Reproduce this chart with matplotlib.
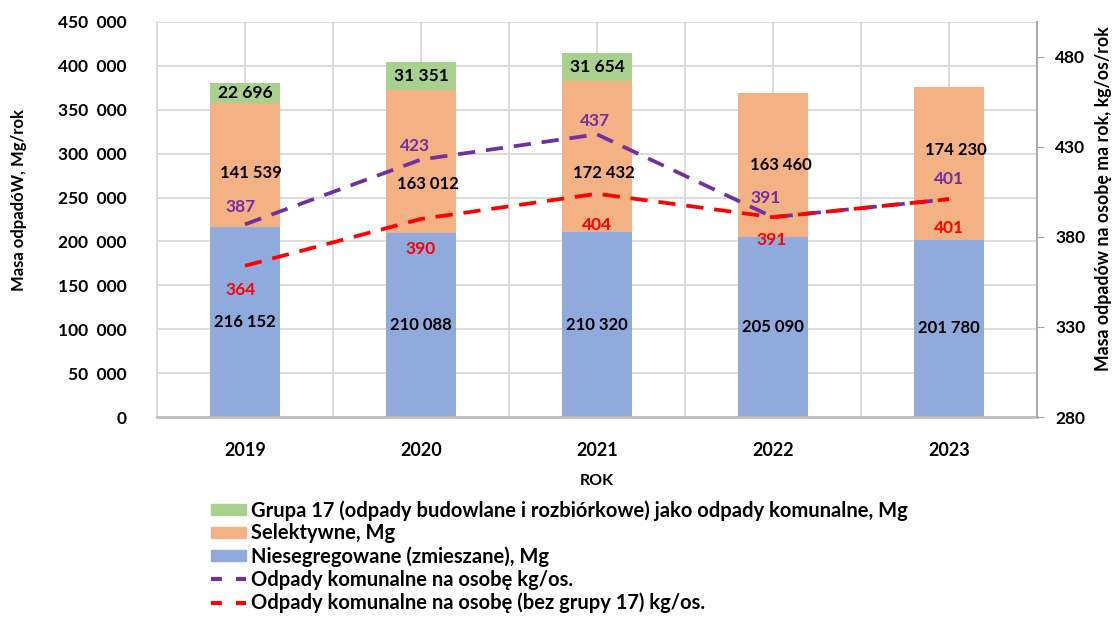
import numpy as np
import matplotlib.pyplot as plt
from matplotlib.patches import Patch
from matplotlib.lines import Line2D
from matplotlib.ticker import FuncFormatter

# ==========================
# Dane
# ==========================
lata = ["2019", "2020", "2021", "2022", "2023"]
niesegregowane = [216152, 210088, 210320, 205090, 201780]
selektywne = [141539, 163012, 172432, 163460, 174230]
grupa17 = [22696, 31351, 31654, 0, 0]
na_osobe = [387, 423, 437, 391, 401]
na_osobe_bez17 = [364, 390, 404, 391, 401]

# przesunięcia etykiet (piksele)
off_sel = [(6, -8), (7, -23), (7, -16), (8, 0), (7, 13)]
off_fiol = [(-4, 17), (-6, 14), (-2, 13), (-7, 19), (0, 20)]
off_czer = [(-4, -24), (0, -30), (0, -31), (-1, -23), (0, -29)]

plt.rcParams['font.family'] = ['Lato', 'DejaVu Sans']
plt.rcParams['font.weight'] = 'bold'
plt.rcParams['axes.labelweight'] = 'bold'

c_nieseg = "#8FAADC"
c_sel = "#F4B183"
c_g17 = "#A9D18E"
c_fiol = "#7030A0"
c_czer = "#FF0000"

def fmt(v):
    return f"{v:,.0f}".replace(",", " ")

x = np.arange(len(lata))
szer = 0.4

fig = plt.figure(figsize=(11.2, 6.17), dpi=100)
ax = fig.add_axes([157/1120, 1 - 417/617, 880/1120, 395/617])

ax.bar(x, niesegregowane, szer, color=c_nieseg, zorder=2)
ax.bar(x, selektywne, szer, bottom=niesegregowane, color=c_sel, zorder=2)
dol17 = np.array(niesegregowane) + np.array(selektywne)
ax.bar(x, grupa17, szer, bottom=dol17, color=c_g17, zorder=2)

ax.set_xlim(-0.5, 4.5)
ax.set_ylim(0, 450000)
ax.set_yticks(np.arange(0, 450001, 50000))
ax.yaxis.set_major_formatter(FuncFormatter(lambda v, p: fmt(v).replace(" ", "  ")))
ax.set_xticks(x)
ax.set_xticklabels(lata)
ax.set_xticks(np.arange(-0.5, 4.6, 0.5), minor=True)
ax.tick_params(axis='x', which='both', length=0, labelsize=13, pad=18)
ax.tick_params(axis='y', length=0, labelsize=12.5, pad=22)
ax.grid(True, which='both', axis='x', color="#D9D9D9", lw=1.3, zorder=0)
ax.grid(True, which='major', axis='y', color="#D9D9D9", lw=1.3, zorder=0)
for s in ["top", "right"]:
    ax.spines[s].set_visible(False)
ax.spines["left"].set_color("#D9D9D9")
ax.spines["left"].set_linewidth(1.3)
ax.spines["bottom"].set_color("#BFBFBF")
ax.spines["bottom"].set_linewidth(2)
ax.set_xlabel("ROK", fontsize=11.5, labelpad=11)
ax.set_ylabel("Masa odpadóW, Mg/rok", fontsize=12)
ax.yaxis.set_label_coords(-0.148, 0.549)

# etykiety słupków
for i in range(len(lata)):
    ax.text(x[i], niesegregowane[i] / 2, fmt(niesegregowane[i]),
            ha="center", va="center", fontsize=12, zorder=3)
    ax.annotate(fmt(selektywne[i]),
                (x[i], niesegregowane[i] + selektywne[i] / 2),
                xytext=(off_sel[i][0] * 0.72, off_sel[i][1] * 0.72),
                textcoords="offset points",
                ha="center", va="center", fontsize=12, zorder=3)
    if grupa17[i] > 0:
        ax.text(x[i], dol17[i] + grupa17[i] / 2, fmt(grupa17[i]),
                ha="center", va="center", fontsize=12.5, zorder=3)

# oś prawa
ax2 = ax.twinx()
ax2.set_ylim(280, 499.4)
ax2.set_yticks(np.arange(280, 481, 50))
ax2.plot(x, na_osobe, color=c_fiol, lw=2.7, dashes=(4.6, 2.9), zorder=4)
ax2.plot(x, na_osobe_bez17, color=c_czer, lw=2.7, dashes=(4.6, 2.9), zorder=5)
for i in range(len(lata)):
    ax2.annotate(str(na_osobe[i]), (x[i], na_osobe[i]),
                 xytext=(off_fiol[i][0] * 0.72, off_fiol[i][1] * 0.72),
                 textcoords="offset points", ha="center", va="center",
                 color=c_fiol, fontsize=12.5)
    ax2.annotate(str(na_osobe_bez17[i]), (x[i], na_osobe_bez17[i]),
                 xytext=(off_czer[i][0] * 0.72, off_czer[i][1] * 0.72),
                 textcoords="offset points", ha="center", va="center",
                 color=c_czer, fontsize=12.5)
for s in ["top", "left", "bottom"]:
    ax2.spines[s].set_visible(False)
ax2.spines["right"].set_color("#A6A6A6")
ax2.spines["right"].set_linewidth(1.3)
ax2.tick_params(axis='y', length=5, color="#A6A6A6", labelsize=12.5, pad=8)
ax2.set_ylabel("Masa odpadów na osobę ma rok, kg/os/rok", fontsize=12.8)
ax2.yaxis.set_label_coords(1.066, 0.554)

# legenda
uchwyty = [
    Patch(color=c_g17),
    Patch(color=c_sel),
    Patch(color=c_nieseg),
    Line2D([0], [0], color=c_fiol, lw=3, dashes=(2.6, 3.4)),
    Line2D([0], [0], color=c_czer, lw=3, dashes=(2.6, 3.4)),
]
etykiety = [
    "Grupa 17 (odpady budowlane i rozbiórkowe) jako odpady komunalne, Mg",
    "Selektywne, Mg",
    "Niesegregowane (zmieszane), Mg",
    "Odpady komunalne na osobę kg/os.",
    "Odpady komunalne na osobę (bez grupy 17) kg/os.",
]
fig.legend(uchwyty, etykiety, loc="upper left",
           bbox_to_anchor=(211/1120, 1 - 500/617), frameon=False,
           fontsize=14.5, handlelength=1.75, handleheight=0.5,
           handletextpad=0.25, labelspacing=0.14, borderaxespad=0,
           borderpad=0)

plt.savefig("out.png", dpi=100)
plt.close()
